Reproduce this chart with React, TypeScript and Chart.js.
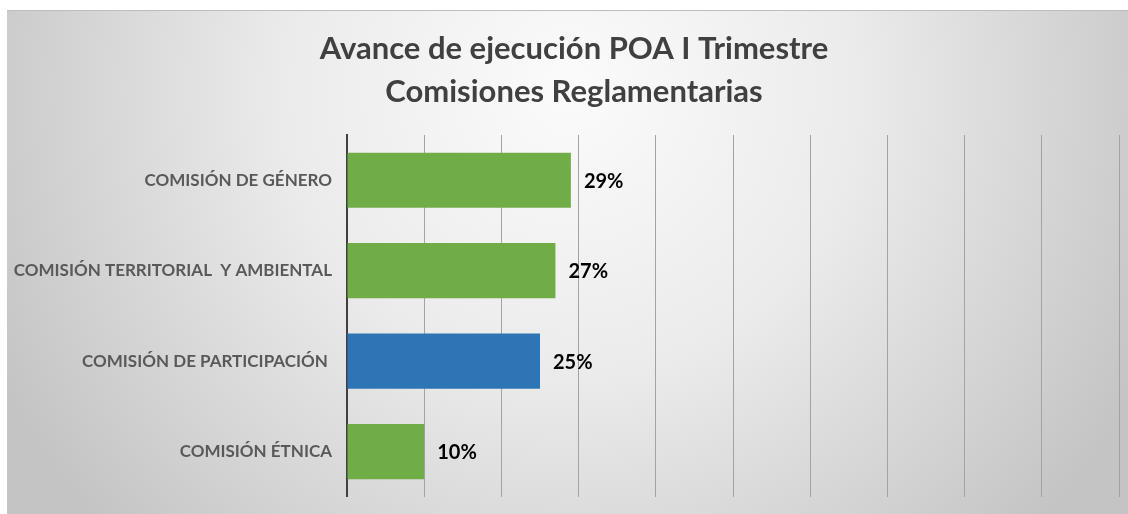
import React, { useEffect, useRef } from "react";
import { Chart, registerables } from "chart.js";

Chart.register(...registerables);

const TITLE_LINES = ["Avance de ejecución POA I Trimestre", "Comisiones Reglamentarias"];
const CATEGORIES = [
  "COMISIÓN DE GÉNERO",
  "COMISIÓN TERRITORIAL  Y AMBIENTAL",
  "COMISIÓN DE PARTICIPACIÓN ",
  "COMISIÓN ÉTNICA",
];
const VALUES = [29, 27, 25, 10];
const BAR_COLORS = ["#70AD47", "#70AD47", "#2E75B6", "#70AD47"];
const X_MIN = 0;
const X_MAX = 100;
const X_STEP = 10;

const W = 1128;
const H = 514;
const CANVAS_H = 522;

const backgroundPlugin = {
  id: "bgPlugin",
  beforeDraw(chart: any) {
    const ctx = chart.ctx as CanvasRenderingContext2D;
    ctx.save();
    ctx.fillStyle = "#ffffff";
    ctx.fillRect(0, 0, W, CANVAS_H);
    const g = ctx.createRadialGradient(570, 90, 0, 570, 90, 640);
    g.addColorStop(0, "#fbfbfb");
    g.addColorStop(0.45, "#ebebeb");
    g.addColorStop(1, "#c4c4c4");
    ctx.fillStyle = g;
    ctx.fillRect(7, 10, W - 7, CANVAS_H - 10);
    ctx.fillStyle = "#bdbdbd";
    ctx.fillRect(7, 10, W - 7, 1);
    ctx.restore();
  },
};

const titlePlugin = {
  id: "customTitle",
  afterDraw(chart: any) {
    const ctx = chart.ctx as CanvasRenderingContext2D;
    ctx.save();
    ctx.font = "bold 31px Lato";
    ctx.fillStyle = "#404040";
    ctx.textAlign = "center";
    ctx.textBaseline = "middle";
    TITLE_LINES.forEach((line, i) => {
      ctx.fillText(line, 574, 49 + i * 43);
    });
    ctx.restore();
  },
};

const valueLabelPlugin = {
  id: "valueLabels",
  afterDatasetsDraw(chart: any) {
    const ctx = chart.ctx as CanvasRenderingContext2D;
    const meta = chart.getDatasetMeta(0);
    ctx.save();
    ctx.font = "bold 20px Lato";
    ctx.fillStyle = "#000000";
    ctx.textAlign = "left";
    ctx.textBaseline = "middle";
    meta.data.forEach((el: any, i: number) => {
      ctx.fillText(`${VALUES[i]}%`, el.x + 13, el.y + 1);
    });
    ctx.restore();
  },
};

export default function App() {
  const ref = useRef<HTMLCanvasElement | null>(null);

  useEffect(() => {
    if (!ref.current) return;
    const chart = new Chart(ref.current, {
      type: "bar",
      data: {
        labels: CATEGORIES,
        datasets: [
          {
            data: VALUES,
            backgroundColor: BAR_COLORS,
            borderWidth: 0,
            barPercentage: 0.61,
            categoryPercentage: 1,
          },
        ],
      },
      options: {
        indexAxis: "y",
        responsive: false,
        animation: false,
        events: [],
        layout: { autoPadding: false, padding: { left: 0, right: 9, top: 135, bottom: 0 } },
        plugins: {
          legend: { display: false },
          tooltip: { enabled: false },
          title: { display: false },
        },
        scales: {
          x: {
            min: X_MIN,
            max: X_MAX,
            ticks: { display: false, stepSize: X_STEP },
            grid: { color: "#a3a3a3", lineWidth: 1, drawTicks: false },
            border: { display: false },
          },
          y: {
            ticks: {
              color: "#595959",
              font: { family: "Lato", size: 17, weight: "bold" },
              padding: 15,
            },
            grid: { display: false, drawTicks: false },
            border: { display: true, color: "#404040", width: 2 },
            afterFit: (s: any) => {
              s.width = 347;
            },
          },
        },
      },
      plugins: [backgroundPlugin, valueLabelPlugin, titlePlugin],
    });
    return () => chart.destroy();
  }, []);

  return (
    <div style={{ position: "fixed", left: 0, top: 0, width: W, height: H, overflow: "hidden", background: "#fff" }}>
      <canvas ref={ref} width={W} height={CANVAS_H} style={{ width: W, height: CANVAS_H, display: "block" }} />
    </div>
  );
}
